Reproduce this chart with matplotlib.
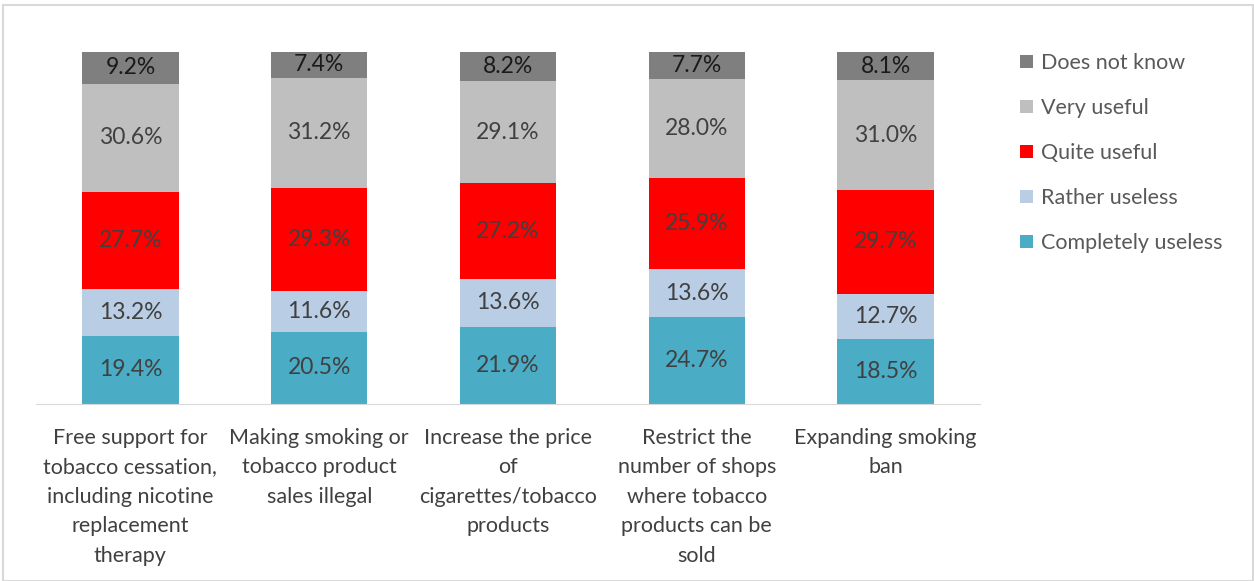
import matplotlib.pyplot as plt
from matplotlib.patches import Rectangle
import numpy as np

plt.rcParams['font.family'] = ['Lato', 'DejaVu Sans']

measures = [
    'Free support for\ntobacco cessation,\nincluding nicotine\nreplacement\ntherapy',
    'Making smoking or\ntobacco product\nsales illegal',
    'Increase the price\nof\ncigarettes/tobacco\nproducts',
    'Restrict the\nnumber of shops\nwhere tobacco\nproducts can be\nsold',
    'Expanding smoking\nban',
]

completely_useless = [19.4, 20.5, 21.9, 24.7, 18.5]
rather_useless = [13.2, 11.6, 13.6, 13.6, 12.7]
quite_useful = [27.7, 29.3, 27.2, 25.9, 29.7]
very_useful = [30.6, 31.2, 29.1, 28.0, 31.0]
does_not_know = [9.2, 7.4, 8.2, 7.7, 8.1]

series = [
    ('Completely useless', completely_useless, '#4bacc6', '#404040'),
    ('Rather useless', rather_useless, '#b9cde5', '#404040'),
    ('Quite useful', quite_useful, '#ff0000', '#404040'),
    ('Very useful', very_useful, '#bfbfbf', '#404040'),
    ('Does not know', does_not_know, '#7f7f7f', '#1a1a1a'),
]

fig = plt.figure(figsize=(12.54, 5.81), dpi=100)
ax = fig.add_axes([0.0287, 0.3046, 0.7528, 0.6060])

x = np.arange(len(measures))
bottom = np.zeros(len(measures))
handles = []
for name, vals, color, tcolor in series:
    vals = np.array(vals)
    bars = ax.bar(x, vals, width=0.51, bottom=bottom, color=color, label=name)
    for xi, b, v in zip(x, bottom, vals):
        ax.text(xi, b + v / 2, f'{v:.1f}%', ha='center', va='center',
                fontsize=16.5, color=tcolor)
    bottom += vals
    handles.append(bars)

ax.set_xlim(-0.5, len(measures) - 0.5)
ax.set_ylim(0, 100)
ax.set_yticks([])
ax.set_xticks(x)
ax.set_xticklabels(measures, fontsize=15.5, color='#404040', linespacing=1.6, va='top')
ax.tick_params(axis='x', length=0, pad=17)
for side in ['top', 'right', 'left']:
    ax.spines[side].set_visible(False)
ax.spines['bottom'].set_color('#d9d9d9')

leg = fig.legend(handles[::-1], [s[0] for s in series][::-1],
                 loc='upper left', bbox_to_anchor=(0.798, 0.942),
                 frameon=False, fontsize=15.5, labelcolor='#595959',
                 handlelength=0.6, handleheight=0.6, handletextpad=0.35,
                 labelspacing=1.16)

# light outline around the whole chart
fig.patches.append(Rectangle((0.0025, 0.0), 0.9965, 0.9914, transform=fig.transFigure,
                             fill=False, edgecolor='#d9d9d9', linewidth=1.5))

fig.savefig('out.png', dpi=100)
